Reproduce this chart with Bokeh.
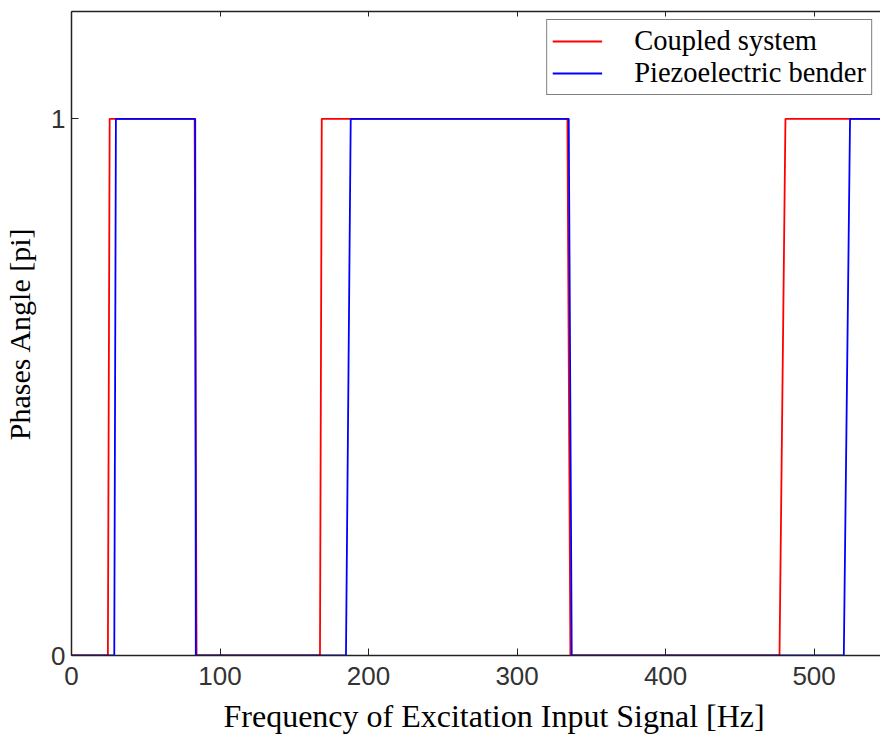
from bokeh.plotting import figure
from bokeh.models import LinearAxis, FixedTicker, Range1d, Legend, LegendItem, Title
from bokeh.embed import file_html
from bokeh.resources import INLINE

# Data (frequency in Hz, phase in units of pi)
coupled_freq = [0, 24.5, 25.7, 82.9, 84.2, 167.3, 168.5, 333.9, 335.9, 476.7, 480.7, 560]
coupled_phase = [0, 0, 1, 1, 0, 0, 1, 1, 0, 0, 1, 1]
bender_freq = [0, 28.8, 29.9, 83.3, 83.7, 184.8, 188.0, 334.8, 336.8, 520.0, 524.2, 560]
bender_phase = [0, 0, 1, 1, 0, 0, 1, 1, 0, 0, 1, 1]
x_ticks = [0, 100, 200, 300, 400, 500]
y_ticks = [0, 1]
x_title = "Frequency of Excitation Input Signal [Hz]"
y_title = "Phases Angle [pi]"

p = figure(width=880, height=741, output_backend="svg", toolbar_location=None,
           x_range=Range1d(0, 544.7), y_range=Range1d(0, 1.2),
           x_axis_location=None, y_axis_location=None,
           min_border_left=62, min_border_top=11, min_border_bottom=86, min_border_right=0)
p.outline_line_color = None
p.xgrid.visible = False
p.ygrid.visible = False
p.background_fill_color = "white"

r1 = p.line(coupled_freq, coupled_phase, line_color="#ff0000", line_width=1.8)
r2 = p.line(bender_freq, bender_phase, line_color="#0000ff", line_width=1.8)

def style_axis(ax, show_labels=True):
    ax.axis_line_color = "#222222"
    ax.axis_line_width = 1.5
    ax.major_tick_line_color = "#222222"
    ax.major_tick_in = 7
    ax.major_tick_out = 0
    ax.minor_tick_line_color = None
    ax.major_label_text_font = "Liberation Sans"
    ax.major_label_text_font_size = "26px"
    ax.major_label_text_color = "#333333"
    if not show_labels:
        ax.major_label_text_alpha = 0
        ax.major_label_text_font_size = "0px"

xb = LinearAxis(ticker=FixedTicker(ticks=x_ticks))
style_axis(xb)
xb.major_label_standoff = 11
p.add_layout(xb, "below")

xtitle = Title(text=x_title, align="left", offset=152, standoff=16,
               text_font="Liberation Serif", text_font_size="32px",
               text_font_style="normal", text_color="#000000")
p.add_layout(xtitle, "below")

yl = LinearAxis(ticker=FixedTicker(ticks=y_ticks), axis_label=y_title)
style_axis(yl)
yl.major_label_standoff = 6
yl.axis_label_standoff = 12
yl.axis_label_text_font = "Liberation Serif"
yl.axis_label_text_font_size = "30px"
yl.axis_label_text_font_style = "normal"
yl.axis_label_text_color = "#000000"
p.add_layout(yl, "left")

xt = LinearAxis(ticker=FixedTicker(ticks=x_ticks))
style_axis(xt, show_labels=False)
xt.major_tick_in = 5
p.add_layout(xt, "above")

legend = Legend(items=[LegendItem(label="Coupled system", renderers=[r1]),
                       LegendItem(label="Piezoelectric bender", renderers=[r2])],
                location="top_right")
legend.label_text_font = "Liberation Serif"
legend.label_text_font_size = "28.5px"
legend.label_text_color = "#000000"
legend.label_height = 28
legend.glyph_height = 28
legend.border_line_color = "#000000"
legend.border_line_width = 1.5
legend.background_fill_color = "white"
legend.background_fill_alpha = 1.0
legend.glyph_width = 50
legend.label_standoff = 32
legend.padding = 5
legend.spacing = 0
legend.margin = 8
p.add_layout(legend)

open("out.html", "w").write(file_html(p, INLINE))
